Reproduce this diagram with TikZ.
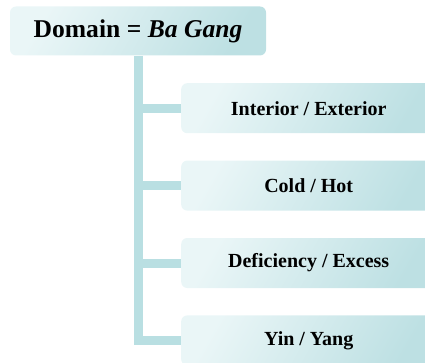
\documentclass[tikz,border=0pt]{standalone}
\usepackage{fontspec}
\setmainfont{Liberation Serif}
\usetikzlibrary{positioning}

\definecolor{boxlight}{HTML}{EAF6F7}
\definecolor{boxdark}{HTML}{BDE0E3}
\definecolor{trunkcol}{HTML}{B9DFE2}

\begin{document}
\begin{tikzpicture}[
			x=1pt, y=-1pt,
			rootbox/.style = {rounded corners=6pt, left color=boxlight, right color=boxdark, shading angle=60,
				minimum width=256pt, minimum height=49pt, font=\bfseries\fontsize{25.6}{28}\selectfont},
			aspect/.style = {rounded corners=6pt, left color=boxlight, right color=boxdark, shading angle=60,
				minimum width=255pt, minimum height=50pt, font=\bfseries\fontsize{20}{24}\selectfont},
			trunk/.style = {draw=trunkcol, line width=9pt},
			node distance=27pt,
			]
			\useasboundingbox (0,0) rectangle (425,363);
			\node[rootbox] (root) at (138,31) {Domain = \textit{Ba Gang}};
			\node[aspect, anchor=north west] (c1) at (181,83) {Interior / Exterior};
			\node[aspect, below=of c1] (c2) {Cold / Hot};
			\node[aspect, below=of c2] (c3) {Deficiency / Excess};
			\node[aspect, below=of c3] (c4) {Yin / Yang};
			% trunk and branches
			\draw[trunk] (root.south) |- (c4.west);
			\foreach \c in {c1,c2,c3}
				\draw[trunk] (root.south |- \c.west) -- (\c.west);
		\end{tikzpicture}
\end{document}
